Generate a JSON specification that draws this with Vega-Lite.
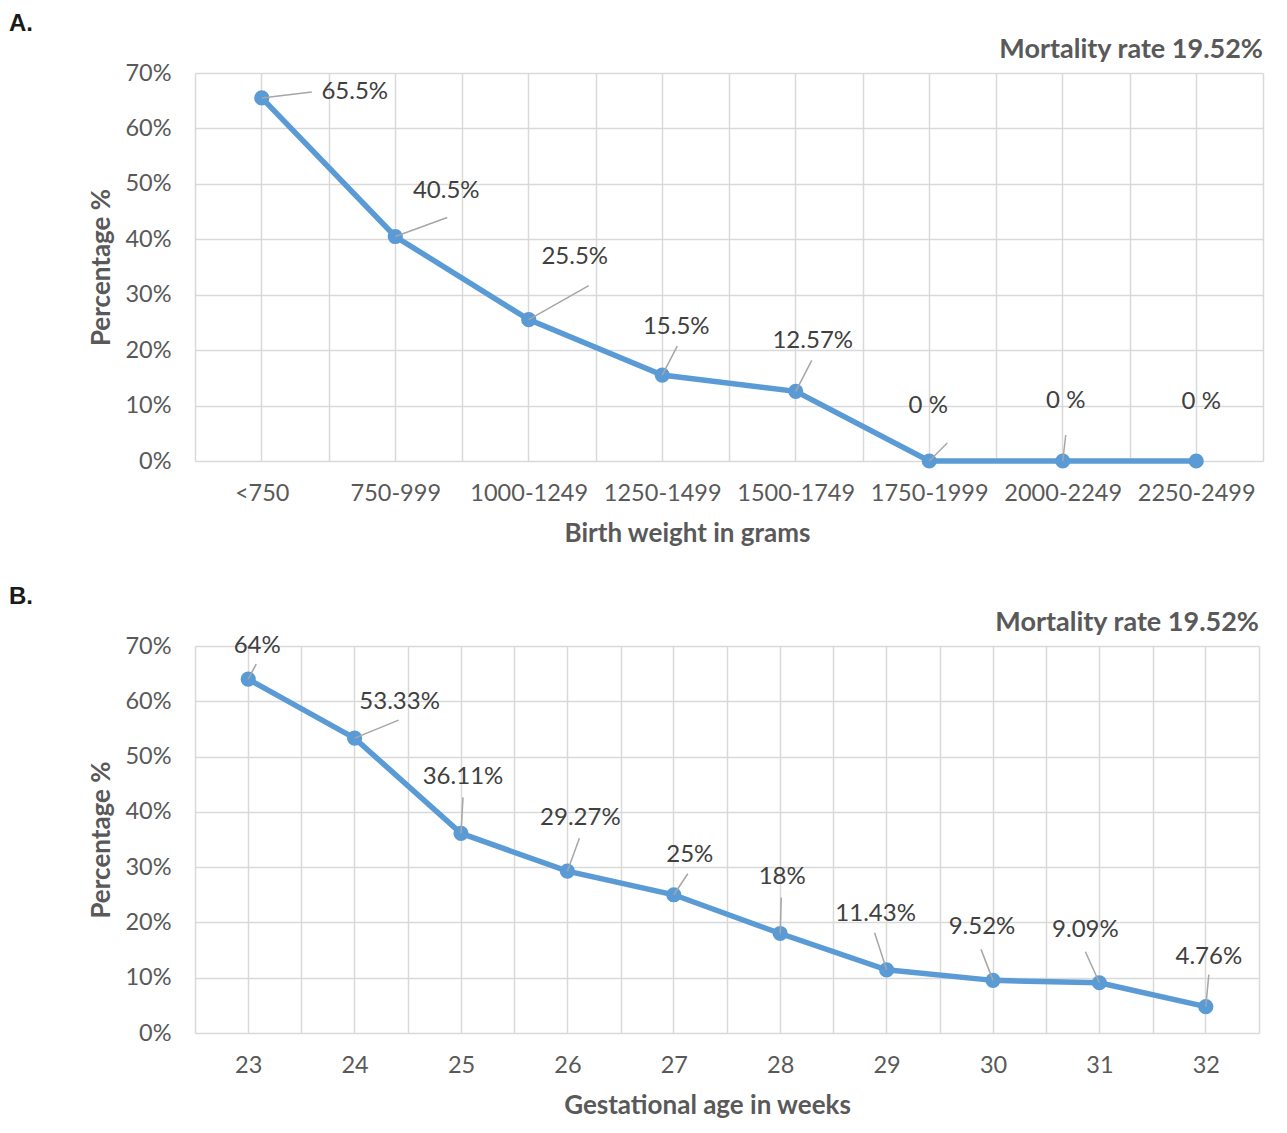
{
  "$schema": "https://vega.github.io/schema/vega-lite/v6.json",
  "padding": {"left": 8, "top": 12, "right": 5, "bottom": 5},
  "background": "white",
  "spacing": 38,
  "config": {
    "font": "Lato",
    "view": {"stroke": null},
    "axis": {"labelFont": "Lato", "labelFontSize": 23.5, "labelColor": "#595959", "titleFont": "Lato", "titleFontSize": 26, "titleFontWeight": "bold", "titleColor": "#595959", "gridColor": "#d9d9d9", "gridWidth": 1.5},
    "title": {"font": "Lato"}
  },
  "vconcat": [
    {
      "title": {"text": "A.", "anchor": "start", "frame": "bounds", "fontSize": 24, "fontWeight": "bold", "color": "#1a1a1a", "font": "Liberation Sans", "dx": -80, "offset": 0},
      "vconcat": [
        {
          "width": 1068,
          "height": 388,
          "title": {"text": "Mortality rate 19.52%", "anchor": "end", "frame": "group", "fontSize": 27, "fontWeight": "bold", "color": "#595959", "offset": -3},
          "data": {"values": [
            {"weight": "<750", "pct": 65.5, "label": "65.5%"},
            {"weight": "750-999", "pct": 40.5, "label": "40.5%"},
            {"weight": "1000-1249", "pct": 25.5, "label": "25.5%"},
            {"weight": "1250-1499", "pct": 15.5, "label": "15.5%"},
            {"weight": "1500-1749", "pct": 12.57, "label": "12.57%"},
            {"weight": "1750-1999", "pct": 0, "label": "0 %"},
            {"weight": "2000-2249", "pct": 0, "label": "0 %"},
            {"weight": "2250-2499", "pct": 0, "label": "0 %"}
          ]},
          "encoding": {
            "y": {"field": "pct", "type": "quantitative", "scale": {"domain": [0, 70]},
              "axis": {"values": [0, 10, 20, 30, 40, 50, 60, 70], "labelExpr": "datum.value + '%'", "title": "Percentage %", "grid": true, "domain": false, "ticks": false, "labelPadding": 24, "titlePadding": 10}}
          },
          "layer": [
            {
              "mark": {"type": "line", "color": "#5B9BD5", "strokeWidth": 5.5},
              "encoding": {
                "x": {"field": "weight", "type": "ordinal", "sort": null, "scale": {"paddingInner": 0, "paddingOuter": 0},
                  "axis": {"orient": "bottom", "tickBand": "extent", "grid": true, "ticks": false, "domain": false, "labelAngle": 0, "labelPadding": 20, "title": "Birth weight in grams", "titlePadding": 16, "titleX": 492}}
              }
            },
            {
              "mark": {"type": "point", "filled": true, "size": 230, "color": "#5B9BD5", "opacity": 1},
              "encoding": {
                "x": {"field": "weight", "type": "ordinal", "sort": null,
                  "axis": {"orient": "bottom", "grid": true, "ticks": false, "domain": false, "labels": false, "title": null}}
              }
            },
            {
              "mark": {"type": "rule", "color": "#a6a6a6", "strokeWidth": 1.5,
                "x2Offset": {"expr": "[50,52,60,15,16,18,3,0][indexof(['<750','750-999','1000-1249','1250-1499','1500-1749','1750-1999','2000-2249','2250-2499'], datum.weight)]"},
                "y2Offset": {"expr": "[-6,-19,-34,-29,-31,-18,-26,0][indexof(['<750','750-999','1000-1249','1250-1499','1500-1749','1750-1999','2000-2249','2250-2499'], datum.weight)]"}},
              "encoding": {
                "x": {"field": "weight", "type": "ordinal", "sort": null, "axis": null},
                "x2": {"field": "weight"},
                "y2": {"field": "pct"}
              }
            },
            {
              "mark": {"type": "text", "fontSize": 24, "color": "#404040", "baseline": "middle", "align": "center",
                "dx": {"expr": "[93,51,46,14,17,-1,3,5][indexof(['<750','750-999','1000-1249','1250-1499','1500-1749','1750-1999','2000-2249','2250-2499'], datum.weight)]"},
                "dy": {"expr": "[-6,-46,-63,-48,-50,-55,-60,-59][indexof(['<750','750-999','1000-1249','1250-1499','1500-1749','1750-1999','2000-2249','2250-2499'], datum.weight)]"}},
              "encoding": {
                "x": {"field": "weight", "type": "ordinal", "sort": null, "axis": null},
                "text": {"field": "label"}
              }
            }
          ],
          "resolve": {"axis": {"x": "independent"}}
        }
      ]
    },
    {
      "title": {"text": "B.", "anchor": "start", "frame": "bounds", "fontSize": 24, "fontWeight": "bold", "color": "#1a1a1a", "font": "Liberation Sans", "dx": -80, "offset": 0},
      "vconcat": [
        {
          "width": 1064,
          "height": 387,
          "title": {"text": "Mortality rate 19.52%", "anchor": "end", "frame": "group", "fontSize": 27, "fontWeight": "bold", "color": "#595959", "offset": -3},
          "data": {"values": [
            {"age": "23", "pct": 64, "label": "64%"},
            {"age": "24", "pct": 53.33, "label": "53.33%"},
            {"age": "25", "pct": 36.11, "label": "36.11%"},
            {"age": "26", "pct": 29.27, "label": "29.27%"},
            {"age": "27", "pct": 25, "label": "25%"},
            {"age": "28", "pct": 18, "label": "18%"},
            {"age": "29", "pct": 11.43, "label": "11.43%"},
            {"age": "30", "pct": 9.52, "label": "9.52%"},
            {"age": "31", "pct": 9.09, "label": "9.09%"},
            {"age": "32", "pct": 4.76, "label": "4.76%"}
          ]},
          "encoding": {
            "y": {"field": "pct", "type": "quantitative", "scale": {"domain": [0, 70]},
              "axis": {"values": [0, 10, 20, 30, 40, 50, 60, 70], "labelExpr": "datum.value + '%'", "title": "Percentage %", "grid": true, "domain": false, "ticks": false, "labelPadding": 24, "titlePadding": 10}}
          },
          "layer": [
            {
              "mark": {"type": "line", "color": "#5B9BD5", "strokeWidth": 5.5},
              "encoding": {
                "x": {"field": "age", "type": "ordinal", "sort": null, "scale": {"paddingInner": 0, "paddingOuter": 0},
                  "axis": {"orient": "bottom", "tickBand": "extent", "grid": true, "ticks": false, "domain": false, "labelAngle": 0, "labelPadding": 20, "title": "Gestational age in weeks", "titlePadding": 16, "titleX": 512}}
              }
            },
            {
              "mark": {"type": "point", "filled": true, "size": 230, "color": "#5B9BD5", "opacity": 1},
              "encoding": {
                "x": {"field": "age", "type": "ordinal", "sort": null,
                  "axis": {"orient": "bottom", "grid": true, "ticks": false, "domain": false, "labels": false, "title": null}}
              }
            },
            {
              "mark": {"type": "rule", "color": "#a6a6a6", "strokeWidth": 1.5,
                "x2Offset": {"expr": "[8,44,2,12,14,1,-12,-12,-14,3][toNumber(datum.age) - 23]"},
                "y2Offset": {"expr": "[-15,-18,-36,-33,-21,-36,-37,-31,-31,-32][toNumber(datum.age) - 23]"}},
              "encoding": {
                "x": {"field": "age", "type": "ordinal", "sort": null, "axis": null},
                "x2": {"field": "age"},
                "y2": {"field": "pct"}
              }
            },
            {
              "mark": {"type": "text", "fontSize": 24, "color": "#404040", "baseline": "middle", "align": "center",
                "dx": {"expr": "[9,45,2,13,16,2,-11,-11,-14,3][toNumber(datum.age) - 23]"},
                "dy": {"expr": "[-33,-36,-56,-53,-40,-56,-56,-53,-53,-50][toNumber(datum.age) - 23]"}},
              "encoding": {
                "x": {"field": "age", "type": "ordinal", "sort": null, "axis": null},
                "text": {"field": "label"}
              }
            }
          ],
          "resolve": {"axis": {"x": "independent"}}
        }
      ]
    }
  ]
}
